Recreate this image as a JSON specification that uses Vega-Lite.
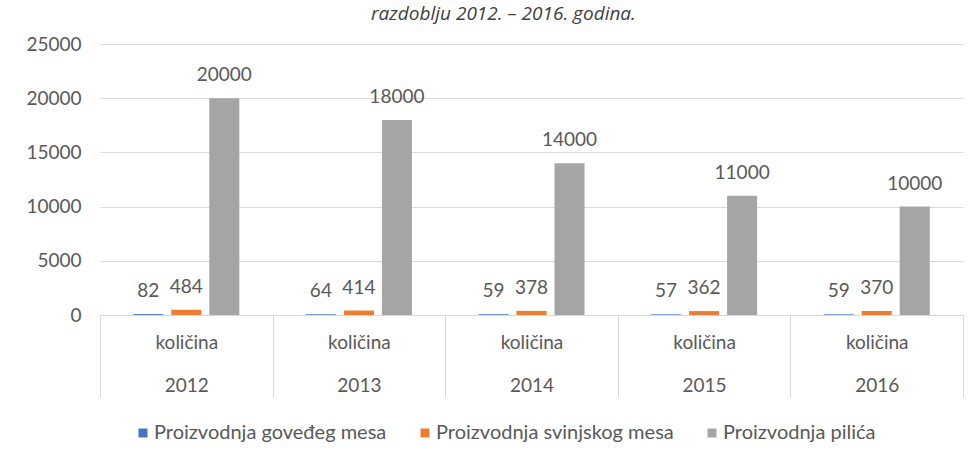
{
  "$schema": "https://vega.github.io/schema/vega-lite/v6.json",
  "width": 863,
  "height": 271,
  "autosize": {"type": "none"},
  "padding": {"left": 100, "top": 44, "right": 16, "bottom": 144},
  "background": "white",
  "title": {
    "text": "razdoblju 2012. – 2016. godina.",
    "font": "Open Sans",
    "fontStyle": "italic",
    "fontWeight": 400,
    "fontSize": 19,
    "color": "#404040",
    "baseline": "alphabetic",
    "anchor": "middle",
    "dx": -28,
    "offset": -4
  },
  "data": {
    "values": [
      {"year": "2012", "series": "Proizvodnja goveđeg mesa", "value": 82},
      {"year": "2012", "series": "Proizvodnja svinjskog mesa", "value": 484},
      {"year": "2012", "series": "Proizvodnja pilića", "value": 20000},
      {"year": "2013", "series": "Proizvodnja goveđeg mesa", "value": 64},
      {"year": "2013", "series": "Proizvodnja svinjskog mesa", "value": 414},
      {"year": "2013", "series": "Proizvodnja pilića", "value": 18000},
      {"year": "2014", "series": "Proizvodnja goveđeg mesa", "value": 59},
      {"year": "2014", "series": "Proizvodnja svinjskog mesa", "value": 378},
      {"year": "2014", "series": "Proizvodnja pilića", "value": 14000},
      {"year": "2015", "series": "Proizvodnja goveđeg mesa", "value": 57},
      {"year": "2015", "series": "Proizvodnja svinjskog mesa", "value": 362},
      {"year": "2015", "series": "Proizvodnja pilića", "value": 11000},
      {"year": "2016", "series": "Proizvodnja goveđeg mesa", "value": 59},
      {"year": "2016", "series": "Proizvodnja svinjskog mesa", "value": 370},
      {"year": "2016", "series": "Proizvodnja pilića", "value": 10000}
    ]
  },
  "encoding": {
    "x": {
      "field": "year",
      "type": "nominal",
      "title": null,
      "scale": {"paddingInner": 0, "paddingOuter": 0},
      "axis": {
        "labelAngle": 0,
        "labelExpr": "isValid(datum.label) && datum.label != '' ? ['količina', datum.label] : ''",
        "labelLineHeight": 43,
        "labelFontSize": 19,
        "labelColor": "#595959",
        "labelPadding": -64,
        "labelBaseline": "top",
        "tickBand": "extent",
        "tickSize": 82,
        "tickColor": "#d9d9d9",
        "domainColor": "#d9d9d9",
        "grid": false
      }
    },
    "xOffset": {
      "field": "series",
      "type": "nominal",
      "sort": ["Proizvodnja goveđeg mesa", "Proizvodnja svinjskog mesa", "Proizvodnja pilića"],
      "scale": {"paddingInner": 0.21, "paddingOuter": 0.875}
    },
    "y": {
      "field": "value",
      "type": "quantitative",
      "title": null,
      "scale": {"domain": [0, 25000], "nice": false},
      "axis": {
        "values": [0, 5000, 10000, 15000, 20000, 25000],
        "format": "d",
        "domain": false,
        "ticks": false,
        "labelPadding": 19,
        "labelFontSize": 19,
        "labelColor": "#595959",
        "gridColor": "#d9d9d9",
        "gridWidth": 1
      }
    }
  },
  "layer": [
    {
      "mark": {"type": "bar"},
      "encoding": {
        "color": {
          "field": "series",
          "type": "nominal",
          "sort": ["Proizvodnja goveđeg mesa", "Proizvodnja svinjskog mesa", "Proizvodnja pilića"],
          "scale": {
            "domain": ["Proizvodnja goveđeg mesa", "Proizvodnja svinjskog mesa", "Proizvodnja pilića"],
            "range": ["#4472C4", "#ED7D31", "#A5A5A5"]
          },
          "legend": {
            "title": null,
            "orient": "none",
            "legendX": 33,
            "legendY": 379,
            "direction": "horizontal",
            "symbolType": "square",
            "symbolSize": 80,
            "symbolStrokeWidth": 0,
            "labelFontSize": 20,
            "labelColor": "#595959",
            "labelOffset": 1,
            "columnPadding": 28,
            "labelLimit": 400
          }
        }
      }
    },
    {
      "mark": {"type": "text", "baseline": "alphabetic", "dy": -17, "fontSize": 19, "color": "#595959"},
      "encoding": {
        "text": {"field": "value", "type": "quantitative", "format": "d"}
      }
    }
  ],
  "config": {
    "font": "Lato",
    "view": {"stroke": null}
  }
}
